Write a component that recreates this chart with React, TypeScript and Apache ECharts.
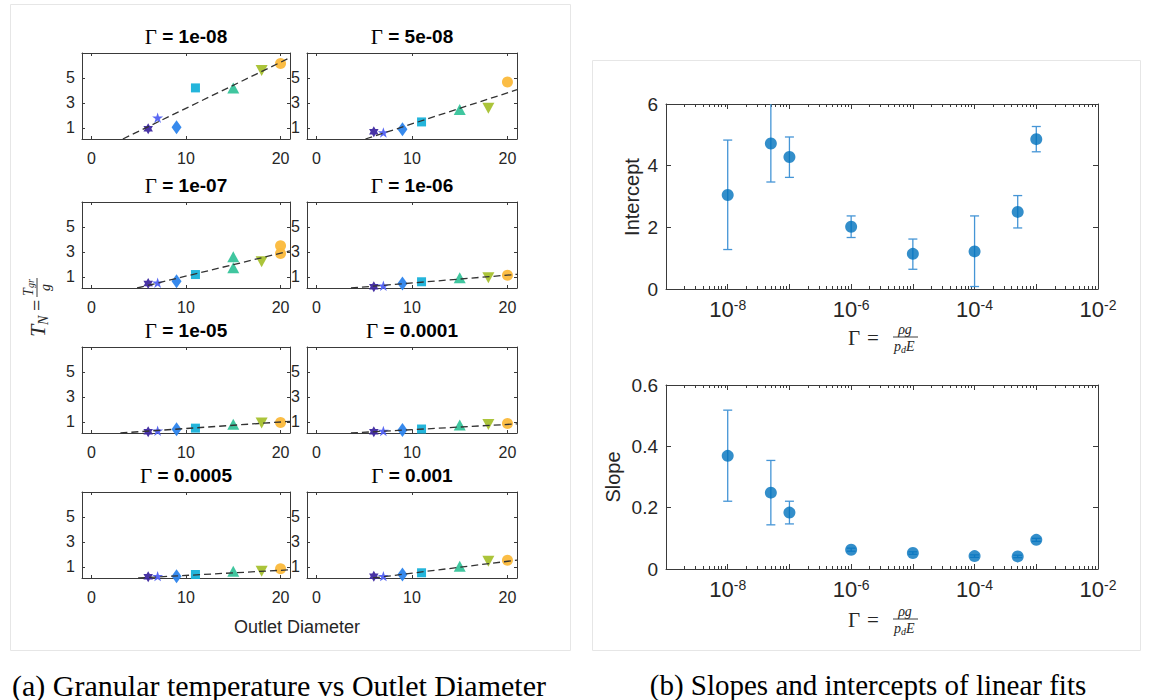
import React, { useEffect, useRef } from "react";
import * as echarts from "echarts";

// ---------- data ----------
const diameters = [6, 7, 9, 11, 15, 18, 20];
const gammaTitles = ["1e-08", "5e-08", "1e-07", "1e-06", "1e-05", "0.0001", "0.0005", "0.001"];
const gammaValues = [1e-8, 5e-8, 1e-7, 1e-6, 1e-5, 1e-4, 5e-4, 1e-3];

// T_N per outlet diameter (some diameters have repeated runs)
const tN_1e08 = [[0.93], [1.8], [1.05], [4.2], [4.2], [5.6], [6.15]];
const tN_5e08 = [[0.69], [0.63], [0.89], [1.47], [2.46], [2.57], [4.68]];
const tN_1e07 = [[0.47], [0.52], [0.65], [1.18], [2.6, 1.72], [2.2], [3.48, 2.87]];
const tN_1e06 = [[0.2], [0.28], [0.47], [0.6], [0.92], [0.92], [1.13]];
const tN_1e05 = [[0.2], [0.28], [0.41], [0.49], [0.81], [0.9], [0.95]];
const tN_1e04 = [[0.2], [0.26], [0.34], [0.42], [0.74], [0.79], [0.87]];
const tN_5e04 = [[0.2], [0.25], [0.25], [0.38], [0.65], [0.65], [0.84]];
const tN_1e03 = [[0.25], [0.25], [0.38], [0.52], [1.05], [1.45], [1.53]];
const tNPanels = [tN_1e08, tN_5e08, tN_1e07, tN_1e06, tN_1e05, tN_1e04, tN_5e04, tN_1e03];

const interceptVals = [3.05, 4.72, 4.28, 2.02, 1.14, 1.22, 2.5, 4.86];
const interceptLow = [1.28, 3.47, 3.62, 1.67, 0.64, 0.08, 1.98, 4.45];
const interceptHigh = [4.83, 6.2, 4.93, 2.37, 1.62, 2.37, 3.03, 5.27];
const slopeVals = [0.369, 0.249, 0.184, 0.063, 0.052, 0.042, 0.041, 0.095];
const slopeLow = [0.221, 0.144, 0.147, 0.058, 0.048, 0.038, 0.037, 0.09];
const slopeHigh = [0.518, 0.354, 0.221, 0.068, 0.056, 0.046, 0.045, 0.1];

const smallXTicks = [0, 10, 20];
const smallYTicks = [1, 3, 5];
const logLabelTicks = [1e-8, 1e-6, 1e-4, 1e-2];

// ---------- styling ----------
const AX = "#3a3a3a";
const TXT = "#262626";
const SANS = "Liberation Sans";
const SERIF = "Liberation Serif";
const Y_MIN = 0.1;
const Y_MAX = 7;

const markerSymbols = [
  "path://M0,-10L2.89,-5L8.66,-5L5.77,0L8.66,5L2.89,5L0,10L-2.89,5L-8.66,5L-5.77,0L-8.66,-5L-2.89,-5Z",
  "path://M0,-10L2.245,-3.09L9.51,-3.09L3.633,1.18L5.88,8.09L0,3.82L-5.88,8.09L-3.633,1.18L-9.51,-3.09L-2.245,-3.09Z",
  "diamond",
  "rect",
  "triangle",
  "triangle",
  "circle",
];
const markerRotate = [0, 0, 0, 0, 0, 180, 0];
const markerSizes = [[11, 11], [11, 11], [10, 14], [9, 9], [12, 11], [12, 11], [11, 11]];
const markerColors = ["#3e28a0", "#5060f2", "#2c84ec", "#18b1d9", "#36c39a", "#a6c12f", "#fbb93b"];

const rowTops = [53, 202, 347, 492];

function buildOption() {
  const grids: any[] = [];
  const xAxes: any[] = [];
  const yAxes: any[] = [];
  const series: any[] = [];
  const graphics: any[] = [];

  const tickStyle = { color: AX, width: 1 };

  // ---------- small panels ----------
  for (let i = 0; i < 8; i++) {
    const col = i % 2;
    const row = Math.floor(i / 2);
    const left = col ? 307 : 82;
    const width = col ? 210 : 208;
    const top = rowTops[row];
    const height = 86;
    grids.push({ left, top, width, height, show: false, containLabel: false });

    const xb = xAxes.length;
    for (const pos of ["bottom", "top"]) {
      xAxes.push({
        gridIndex: i,
        type: "value",
        position: pos,
        min: -1,
        max: 21,
        axisLine: { show: true, onZero: false, lineStyle: { color: AX, width: 1 } },
        axisTick: { show: true, inside: true, length: 3, customValues: smallXTicks, lineStyle: tickStyle },
        axisLabel: {
          show: pos === "bottom",
          customValues: smallXTicks,
          color: TXT,
          fontSize: 16,
          fontFamily: SANS,
          margin: 11,
        },
        splitLine: { show: false },
      });
    }
    const yl = yAxes.length;
    for (const pos of ["left", "right"]) {
      yAxes.push({
        gridIndex: i,
        type: "value",
        position: pos,
        min: Y_MIN,
        max: Y_MAX,
        axisLine: { show: true, onZero: false, lineStyle: { color: AX, width: 1 } },
        axisTick: { show: true, inside: true, length: 3, customValues: smallYTicks, lineStyle: tickStyle },
        axisLabel: {
          show: pos === "left",
          customValues: smallYTicks,
          color: TXT,
          fontSize: 16,
          fontFamily: SANS,
          margin: 7,
        },
        splitLine: { show: false },
      });
    }

    const panel = tNPanels[i];
    for (let k = 0; k < diameters.length; k++) {
      series.push({
        type: "scatter",
        xAxisIndex: xb,
        yAxisIndex: yl,
        symbol: markerSymbols[k],
        symbolSize: markerSizes[k],
        symbolRotate: markerRotate[k],
        symbolKeepAspect: true,
        itemStyle: { color: markerColors[k], opacity: 0.95 },
        data: panel[k].map((v) => [diameters[k], v]),
        z: 2,
      });
    }
    // linear fit line from right-panel slope / intercept
    const s = slopeVals[i];
    const b = interceptVals[i];
    const x0 = b + Y_MIN / s;
    series.push({
      type: "line",
      xAxisIndex: xb,
      yAxisIndex: yl,
      symbol: "none",
      clip: true,
      lineStyle: { color: "#333", width: 1.3, type: [7, 4] },
      data: [
        [x0, Y_MIN],
        [21, s * (21 - b)],
      ],
      z: 5,
    });

    graphics.push({
      type: "text",
      x: left + width / 2,
      y: top - 16.5,
      style: {
        text: "{g|Γ}{b| = " + gammaTitles[i] + "}",
        align: "center",
        verticalAlign: "middle",
        rich: {
          g: { fontFamily: SERIF, fontSize: 21, fill: "#000", fontWeight: "normal" },
          b: { fontFamily: SANS, fontSize: 19, fontWeight: "bold", fill: "#000" },
        },
      },
    });
  }

  // ---------- right panels ----------
  const minorLog: number[] = [];
  for (let e = -9; e <= -3; e++) for (let m = 2; m <= 9; m++) minorLog.push(m * Math.pow(10, e));
  const decades: number[] = [];
  for (let e = -9; e <= -2; e++) decades.push(Math.pow(10, e));

  const rightDefs = [
    { top: 104, height: 185, vals: interceptVals, lo: interceptLow, hi: interceptHigh, max: 6, interval: 2 },
    { top: 385, height: 184, vals: slopeVals, lo: slopeLow, hi: slopeHigh, max: 0.6, interval: 0.2 },
  ];
  rightDefs.forEach((d, j) => {
    const gi = grids.length;
    grids.push({ left: 666, top: d.top, width: 432, height: d.height, show: false });
    const xb = xAxes.length;
    for (const pos of ["bottom", "top"]) {
      xAxes.push({
        gridIndex: gi,
        type: "log",
        logBase: 10,
        position: pos,
        min: 1e-9,
        max: 1e-2,
        axisLine: { show: true, onZero: false, lineStyle: { color: AX, width: 1 } },
        axisTick: { show: true, inside: true, length: 5, customValues: decades, lineStyle: tickStyle },
        axisLabel: {
          show: pos === "bottom",
          customValues: logLabelTicks,
          margin: 9,
          formatter: (v: number) => "{b|10}{s|" + Math.round(Math.log10(v)) + "}",
          rich: {
            b: { fontFamily: SANS, fontSize: 22, color: TXT, lineHeight: 22, padding: [6, 0, 0, 0], verticalAlign: "bottom" },
            s: { fontFamily: SANS, fontSize: 14, color: TXT, lineHeight: 14, verticalAlign: "top" },
          },
        },
        splitLine: { show: false },
      });
      xAxes.push({
        gridIndex: gi,
        type: "log",
        logBase: 10,
        position: pos,
        min: 1e-9,
        max: 1e-2,
        axisLine: { show: false, onZero: false },
        axisTick: { show: true, inside: true, length: 3, customValues: minorLog, lineStyle: tickStyle },
        axisLabel: { show: false },
        splitLine: { show: false },
      });
    }
    const yl = yAxes.length;
    for (const pos of ["left", "right"]) {
      yAxes.push({
        gridIndex: gi,
        type: "value",
        position: pos,
        min: 0,
        max: d.max,
        interval: d.interval,
        axisLine: { show: true, onZero: false, lineStyle: { color: AX, width: 1 } },
        axisTick: { show: true, inside: true, length: 5, lineStyle: tickStyle },
        axisLabel: { show: pos === "left", color: TXT, fontSize: 19, fontFamily: SANS, margin: 8 },
        splitLine: { show: false },
      });
    }
    series.push({
      type: "custom",
      xAxisIndex: xb,
      yAxisIndex: yl,
      clip: true,
      z: 2,
      data: gammaValues.map((g, k) => [g, d.lo[k], d.hi[k]]),
      renderItem: (params: any, api: any) => {
        const x = api.value(0);
        const p1 = api.coord([x, api.value(1)]);
        const p2 = api.coord([x, api.value(2)]);
        const w = 4.5;
        const st = { stroke: "#4595d6", lineWidth: 1.3 };
        return {
          type: "group",
          children: [
            { type: "line", shape: { x1: p1[0], y1: p1[1], x2: p2[0], y2: p2[1] }, style: st },
            { type: "line", shape: { x1: p1[0] - w, y1: p1[1], x2: p1[0] + w, y2: p1[1] }, style: st },
            { type: "line", shape: { x1: p2[0] - w, y1: p2[1], x2: p2[0] + w, y2: p2[1] }, style: st },
          ],
        };
      },
    });
    series.push({
      type: "scatter",
      xAxisIndex: xb,
      yAxisIndex: yl,
      symbol: "circle",
      symbolSize: 12,
      itemStyle: { color: "#0072bd" },
      data: gammaValues.map((g, k) => [g, d.vals[k]]),
      z: 3,
    });

    // x label  Γ = ρg / (p_d E)
    const yc = j === 0 ? 337 : 619;
    const it = (t: string, x: number, y: number, size: number, italic = true, align = "left") => ({
      type: "text",
      x,
      y,
      style: {
        text: t,
        font: (italic ? "italic " : "") + size + "px \"" + SERIF + "\"",
        fill: TXT,
        align,
        verticalAlign: "middle",
      },
    });
    graphics.push({
      type: "group",
      x: 848,
      y: yc,
      children: [
        it("Γ", 0, 1, 21, false),
        it("=", 19, 1, 21, false),
        it("ρg", 57, -8, 14, true, "center"),
        { type: "line", shape: { x1: 45, y1: 0, x2: 70, y2: 0 }, style: { stroke: TXT, lineWidth: 0.9 } },
        it("p", 46, 9, 14),
        it("d", 53, 12, 10),
        it("E", 58, 9, 14),
      ],
    });
  });

  // y names for right panels
  graphics.push({
    type: "text",
    x: 632,
    y: 197,
    rotation: Math.PI / 2,
    style: { text: "Intercept", font: "20px \"" + SANS + "\"", fill: TXT, align: "center", verticalAlign: "middle" },
  });
  graphics.push({
    type: "text",
    x: 613,
    y: 477,
    rotation: Math.PI / 2,
    style: { text: "Slope", font: "20px \"" + SANS + "\"", fill: TXT, align: "center", verticalAlign: "middle" },
  });

  // left shared labels
  graphics.push({
    type: "text",
    x: 297,
    y: 627,
    style: { text: "Outlet Diameter", font: "18px \"" + SANS + "\"", fill: TXT, align: "center", verticalAlign: "middle" },
  });
  const lt = (t: string, x: number, y: number, size: number, align = "left") => ({
    type: "text",
    x,
    y,
    style: { text: t, font: "italic " + size + "px \"" + SERIF + "\"", fill: TXT, align, verticalAlign: "middle" },
  });
  graphics.push({
    type: "group",
    x: 37,
    y: 309,
    rotation: Math.PI / 2,
    children: [
      lt("T", -28, 0, 22),
      lt("N", -16, 6, 14),
      { type: "text", x: -2, y: 0, style: { text: "=", font: "20px \"" + SERIF + "\"", fill: TXT, align: "left", verticalAlign: "middle" } },
      lt("T", 13, -9, 14),
      lt("gr", 21, -7, 10),
      { type: "line", shape: { x1: 12, y1: 0, x2: 31, y2: 0 }, style: { stroke: TXT, lineWidth: 0.9 } },
      lt("g", 21.5, 8, 14, "center"),
    ],
  });

  // frames
  graphics.push({
    type: "rect",
    shape: { x: 10.5, y: 4.5, width: 560, height: 646 },
    style: { fill: "none", stroke: "#e6e6e6", lineWidth: 1 },
    z: -10,
  });
  graphics.push({
    type: "rect",
    shape: { x: 592.5, y: 60.5, width: 548, height: 590 },
    style: { fill: "none", stroke: "#e6e6e6", lineWidth: 1 },
    z: -10,
  });

  // captions
  graphics.push({
    type: "text",
    x: 279,
    y: 685,
    style: { text: "(a) Granular temperature vs Outlet Diameter", font: "30px \"" + SERIF + "\"", fill: "#000", align: "center", verticalAlign: "middle" },
  });
  graphics.push({
    type: "text",
    x: 868,
    y: 685,
    style: { text: "(b) Slopes and intercepts of linear fits", font: "29px \"" + SERIF + "\"", fill: "#000", align: "center", verticalAlign: "middle" },
  });

  return {
    animation: false,
    backgroundColor: "#ffffff",
    grid: grids,
    xAxis: xAxes,
    yAxis: yAxes,
    series,
    graphic: { elements: graphics },
  };
}

export default function App() {
  const ref = useRef<HTMLDivElement>(null);
  useEffect(() => {
    document.body.style.margin = "0";
    const chart = echarts.init(ref.current as HTMLDivElement, null, { renderer: "svg" });
    chart.setOption(buildOption() as any);
    return () => chart.dispose();
  }, []);
  return <div ref={ref} style={{ width: 1149, height: 700 }} />;
}
